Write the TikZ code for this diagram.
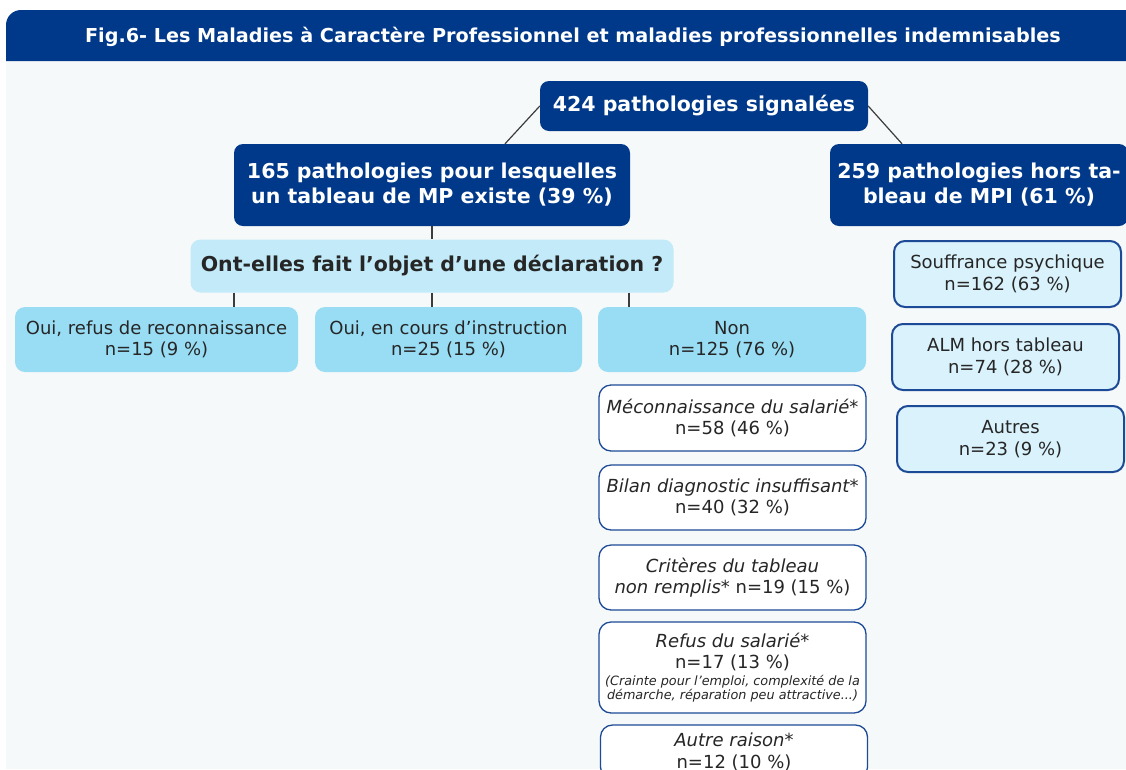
\documentclass[tikz,border=0pt]{standalone}
\usepackage{fontspec}
\setmainfont{DejaVu Sans}
\usetikzlibrary{calc}
\definecolor{mpblue}{RGB}{0,57,138}
\definecolor{qblue}{RGB}{195,234,248}
\definecolor{oblue}{RGB}{153,221,244}
\definecolor{rblue}{RGB}{217,242,251}
\definecolor{edgeblue}{RGB}{28,74,150}
\definecolor{panel}{RGB}{246,249,249}
\definecolor{ink}{RGB}{38,38,38}
\tikzset{
  darkbox/.style={fill=mpblue,rounded corners=9pt,text=white,align=center,inner sep=0pt,
    font=\bfseries\fontsize{20.5}{25}\selectfont},
  askbox/.style={fill=qblue,rounded corners=10pt,text=ink,align=center,inner sep=0pt,
    font=\bfseries\fontsize{20.5}{25}\selectfont},
  answbox/.style={fill=oblue,rounded corners=10pt,text=ink,align=center,inner sep=0pt,
    font=\fontsize{18}{21.5}\selectfont},
  whybox/.style={draw=edgeblue,line width=1.3pt,fill=white,rounded corners=12pt,text=ink,align=center,
    inner sep=0pt,minimum width=267pt,font=\fontsize{18}{21.5}\selectfont},
  horsbox/.style={draw=edgeblue,line width=2pt,fill=rblue,rounded corners=11pt,text=ink,align=center,
    inner sep=0pt,minimum width=227pt,minimum height=66pt,font=\fontsize{18}{21.5}\selectfont},
  link/.style={draw=ink!90,line width=1.2pt}
}
\newcommand{\petit}{\fontsize{12.8}{14}\selectfont\itshape}
\begin{document}
\begin{tikzpicture}[x=1pt,y=-1pt]
\useasboundingbox (0,0) rectangle (1126,769);
% fond et bandeau
\fill[panel] (6,61) rectangle (1126,769);
\fill[mpblue] (6,61) [rounded corners=15pt] -- (6,10) [sharp corners] -- (1126,10) -- (1126,61) -- cycle;
\node[text=white,font=\bfseries\fontsize{19.2}{22}\selectfont] (titre) at (573,37)
  {Fig.6- Les Maladies à Caractère Professionnel et maladies professionnelles indemnisables};

% niveau 1 et 2
\node[darkbox,minimum width=328pt,minimum height=50pt] (total) at (704,106) {424 pathologies signalées};
\node[darkbox,minimum width=396pt,minimum height=82pt] (mp) at (432,185)
  {165 pathologies pour lesquelles\\un tableau de MP existe (39 \%)};
\node[darkbox,minimum width=298pt,minimum height=82pt] (hors) at (979,185)
  {259 pathologies hors ta-\\bleau de MPI (61 \%)};
\draw[link] (total.west) -- ($(mp.north)+(73,0)$);
\draw[link] (total.east) -- ($(hors.north)+(-77,0)$);

% declaration
\node[askbox,minimum width=483pt,minimum height=53pt] (q) at (432,266)
  {Ont-elles fait l’objet d’une déclaration ?};
\draw[link] (mp.south) -- (q.north);

\node[answbox,minimum width=283pt,minimum height=65pt] (refus) at (156.5,339.5)
  {Oui, refus de reconnaissance\\n=15 (9 \%)};
\node[answbox,minimum width=267pt,minimum height=65pt] (cours) at (448.5,339.5)
  {Oui, en cours d’instruction\\n=25 (15 \%)};
\node[answbox,minimum width=268pt,minimum height=65pt] (non) at (732,339.5)
  {Non\\n=125 (76 \%)};
\foreach \b/\dx in {refus/-198,cours/0,non/197}
  \draw[link] ($(q.south)+(\dx,0)$) coordinate (q-\b) -- (q-\b |- \b.north);

% raisons de non declaration
\node[whybox,minimum height=66pt] (mecon) at (732.5,418)
  {\textit{Méconnaissance du salarié*}\\n=58 (46 \%)};
\node[whybox,minimum height=65pt] (bilan) at (732.5,497.5)
  {\textit{Bilan diagnostic insuffisant*}\\n=40 (32 \%)};
\node[whybox,minimum height=65pt] (crit) at (732.5,577.5)
  {\textit{Critères du tableau}\\\textit{non remplis*} n=19 (15 \%)};
\node[whybox,minimum height=91pt] (refsal) at (732.5,667.5)
  {\textit{Refus du salarié*}\\n=17 (13 \%)\\[-5pt]
   \petit (Crainte pour l’emploi, complexité de la\\[-7pt]\petit démarche, réparation peu attractive...)};
\node[whybox,minimum height=54pt] (autre) at (734,752)
  {\textit{Autre raison*}\\n=12 (10 \%)};

% hors tableau
\node[horsbox] (psy) at (1007.5,274) {Souffrance psychique\\n=162 (63 \%)};
\node[horsbox] (alm) at (1005.5,357) {ALM hors tableau\\n=74 (28 \%)};
\node[horsbox] (autres) at (1010.5,439) {Autres\\n=23 (9 \%)};
\end{tikzpicture}
\end{document}
